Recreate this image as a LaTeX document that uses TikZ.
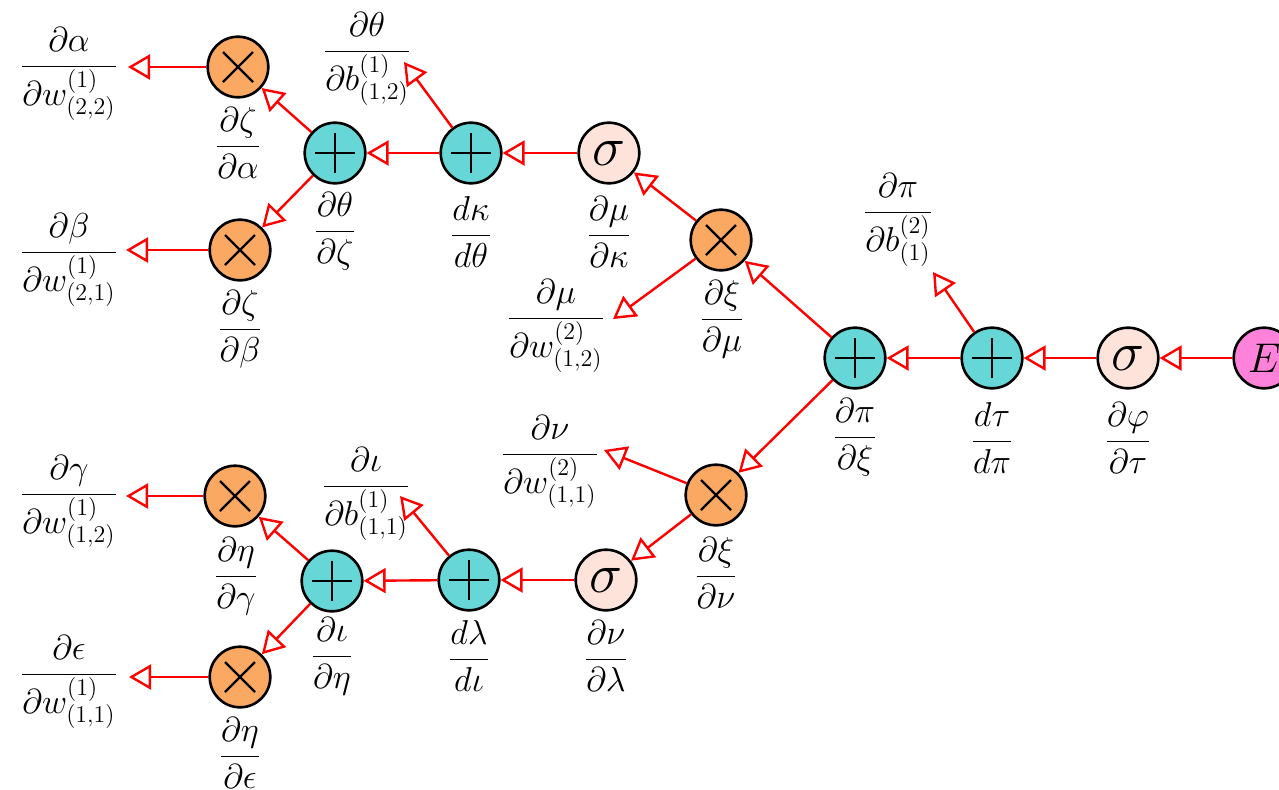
\documentclass[tikz,border=0pt]{standalone}
\usetikzlibrary{arrows.meta}

\definecolor{mulfill}{RGB}{250,168,98}
\definecolor{addfill}{RGB}{102,214,214}
\definecolor{actfill}{RGB}{253,227,217}
\definecolor{errfill}{RGB}{255,130,218}

\newcommand{\dfr}[2]{\displaystyle\frac{#1}{#2}}

\tikzset{
  op/.style={circle, draw=black, line width=1.3pt, minimum size=30.3pt, inner sep=0pt},
  addnode/.style={op, fill=addfill,
    path picture={
      \draw[line width=1.25pt]
        ([xshift=-10pt]path picture bounding box.center) -- ([xshift=10pt]path picture bounding box.center)
        ([yshift=-10pt]path picture bounding box.center) -- ([yshift=10pt]path picture bounding box.center);
    }},
  mulnode/.style={op, fill=mulfill,
    path picture={
      \draw[line width=1.1pt]
        ([shift={(-7.5pt,-7.5pt)}]path picture bounding box.center) -- ([shift={(7.5pt,7.5pt)}]path picture bounding box.center)
        ([shift={(-7.5pt,7.5pt)}]path picture bounding box.center) -- ([shift={(7.5pt,-7.5pt)}]path picture bounding box.center);
    }},
  actnode/.style={op, fill=actfill, font=\Huge},
  errnode/.style={op, fill=errfill, font=\huge},
  lab/.style={anchor=base, inner sep=0pt, font=\LARGE},
  grad/.style={draw=red, line width=1.2pt, -{Triangle[open, length=11pt, width=12.5pt]}},
}

\begin{document}
\begin{tikzpicture}[x=0.5pt, y=-0.5pt]
  \useasboundingbox (0,0) rectangle (1279,789);

  % operation nodes
  \node[errnode] (E)   at (1264,358) {$E$};
  \node[actnode] (s3)  at (1128,358) {\scalebox{1.12}{$\sigma$}};
  \node[addnode] (pt)  at (992,358)  {};
  \node[addnode] (pp)  at (855,358)  {};
  \node[mulnode] (mu)  at (721,240)  {};
  \node[actnode] (su)  at (609,153)  {\scalebox{1.12}{$\sigma$}};
  \node[addnode] (pk)  at (471,153)  {};
  \node[addnode] (pth) at (335,153)  {};
  \node[mulnode] (ta)  at (238,67)   {};
  \node[mulnode] (tb)  at (240,250)  {};
  \node[mulnode] (nu)  at (716,495)  {};
  \node[actnode] (sl)  at (606,580)  {\scalebox{1.12}{$\sigma$}};
  \node[addnode] (pl)  at (469,580)  {};
  \node[addnode] (pi)  at (332,581)  {};
  \node[mulnode] (tg)  at (235,496)  {};
  \node[mulnode] (te)  at (240,677)  {};

  % free ends of the parameter gradients
  \coordinate (fa)  at (128,67);
  \coordinate (fb)  at (126,250);
  \coordinate (fg)  at (126,496);
  \coordinate (fe)  at (129,677);
  \coordinate (fth) at (404,62);
  \coordinate (fio) at (400,496);
  \coordinate (fpi) at (933,272);
  \coordinate (fmu) at (613,319);
  \coordinate (fnu) at (604,450);

  % backward flow
  \draw[grad] (E) -- (s3);
  \draw[grad] (s3) -- (pt);
  \draw[grad] (pt) -- (pp);
  \draw[grad] (pt) -- (fpi);
  \draw[grad] (pp) -- (mu);
  \draw[grad] (pp) -- (nu);
  \draw[grad] (mu) -- (su);
  \draw[grad] (mu) -- (fmu);
  \draw[grad] (su) -- (pk);
  \draw[grad] (pk) -- (pth);
  \draw[grad] (pk) -- (fth);
  \draw[grad] (pth) -- (ta);
  \draw[grad] (pth) -- (tb);
  \draw[grad] (ta) -- (fa);
  \draw[grad] (tb) -- (fb);
  \draw[grad] (nu) -- (sl);
  \draw[grad] (nu) -- (fnu);
  \draw[grad] (sl) -- (pl);
  \draw[grad] (pl) -- (pi);
  \draw[grad] (pl) -- (fio);
  \draw[grad] (pi) -- (tg);
  \draw[grad] (pi) -- (te);
  \draw[grad] (tg) -- (fg);
  \draw[grad] (te) -- (fe);

  % local derivatives (baseline = fraction bar + axis height)
  \node[lab] (l1)  at (69,75)   {$\dfr{\partial\alpha}{\partial w^{(1)}_{(2,2)}}$};
  \node[lab] (l2)  at (238,155) {$\dfr{\partial\zeta}{\partial\alpha}$};
  \node[lab] (l3)  at (367,60)  {$\dfr{\partial\theta}{\partial b^{(1)}_{(1,2)}}$};
  \node[lab] (l4)  at (335,240) {$\dfr{\partial\theta}{\partial\zeta}$};
  \node[lab] (l5)  at (69,261)  {$\dfr{\partial\beta}{\partial w^{(1)}_{(2,1)}}$};
  \node[lab] (l6)  at (240,338) {$\dfr{\partial\zeta}{\partial\beta}$};
  \node[lab] (l7)  at (471,244) {$\dfr{d\kappa}{d\theta}$};
  \node[lab] (l8)  at (609,244) {$\dfr{\partial\mu}{\partial\kappa}$};
  \node[lab] (l9)  at (722,328) {$\dfr{\partial\xi}{\partial\mu}$};
  \node[lab] (l10) at (556,327) {$\dfr{\partial\mu}{\partial w^{(2)}_{(1,2)}}$};
  \node[lab] (l11) at (855,446) {$\dfr{\partial\pi}{\partial\xi}$};
  \node[lab] (l12) at (898,221) {$\dfr{\partial\pi}{\partial b^{(2)}_{(1)}}$};
  \node[lab] (l13) at (992,450) {$\dfr{d\tau}{d\pi}$};
  \node[lab] (l14) at (1128,450) {$\dfr{\partial\varphi}{\partial\tau}$};
  \node[lab] (l15) at (550,463) {$\dfr{\partial\nu}{\partial w^{(2)}_{(1,1)}}$};
  \node[lab] (l16) at (716,585) {$\dfr{\partial\xi}{\partial\nu}$};
  \node[lab] (l17) at (606,668) {$\dfr{\partial\nu}{\partial\lambda}$};
  \node[lab] (l18) at (469,668) {$\dfr{d\lambda}{d\iota}$};
  \node[lab] (l19) at (366,495) {$\dfr{\partial\iota}{\partial b^{(1)}_{(1,1)}}$};
  \node[lab] (l20) at (332,665) {$\dfr{\partial\iota}{\partial\eta}$};
  \node[lab] (l21) at (69,503)  {$\dfr{\partial\gamma}{\partial w^{(1)}_{(1,2)}}$};
  \node[lab] (l22) at (236,585) {$\dfr{\partial\eta}{\partial\gamma}$};
  \node[lab] (l23) at (69,683)  {$\dfr{\partial\epsilon}{\partial w^{(1)}_{(1,1)}}$};
  \node[lab] (l24) at (240,765) {$\dfr{\partial\eta}{\partial\epsilon}$};
\end{tikzpicture}
\end{document}
